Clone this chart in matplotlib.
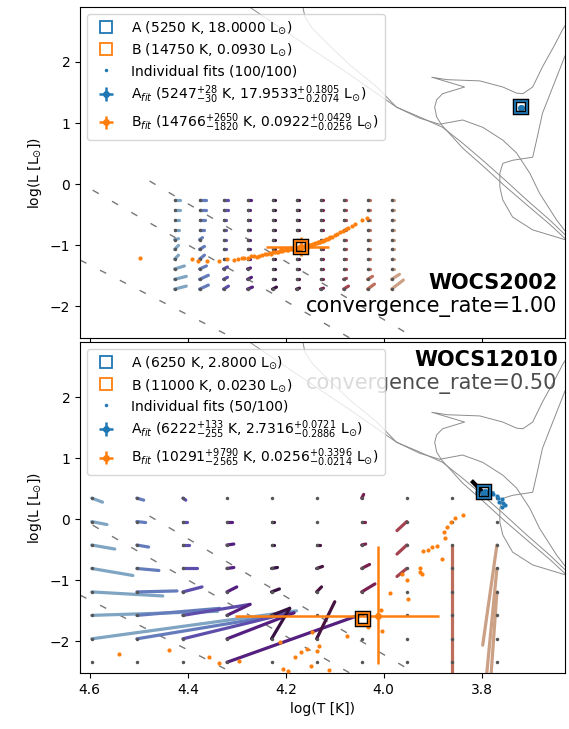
import numpy as np
import matplotlib
matplotlib.use("Agg")
import matplotlib.pyplot as plt

# ---------------- isochrone tracks (log T, log L), same in both panels ----------------
iso1_logT = [4.294, 4.274, 4.171, 4.069, 3.974, 3.927, 3.880, 3.839, 3.798, 3.753, 3.708, 3.661, 3.622, 3.600]
iso1_logL = [3.02, 2.90, 2.34, 1.79, 1.26, 1.10, 0.93, 0.67, 0.39, 0.07, -0.26, -0.59, -0.89, -1.20]
iso2_logT = [4.165, 4.165, 4.161, 4.147, 4.116, 4.069, 4.014, 3.974, 3.927, 3.886, 3.859, 3.839,
             3.798, 3.757, 3.729, 3.702, 3.682, 3.647, 3.622, 3.600]
iso2_logL = [3.02, 2.90, 2.74, 2.56, 2.31, 1.95, 1.59, 1.26, 1.08, 0.98, 1.02, 1.05,
             0.93, 0.72, 0.51, 0.18, -0.15, -0.59, -0.85, -1.15]
iso3_logT = [3.600, 3.622, 3.661, 3.708, 3.753, 3.798, 3.839, 3.865, 3.882, 3.892, 3.896, 3.892,
             3.880, 3.835, 3.902, 3.871, 3.804, 3.757, 3.729, 3.716, 3.696, 3.676, 3.651, 3.635, 3.620]
iso3_logL = [-1.25, -0.95, -0.66, -0.34, -0.03, 0.30, 0.59, 0.82, 0.97, 1.10, 1.26, 1.38,
             1.48, 1.59, 1.75, 1.71, 1.69, 1.59, 1.49, 1.48, 1.59, 1.92, 2.28, 2.53, 2.72]
iso4_logT = [3.600, 3.622, 3.696, 3.737, 3.757, 3.763, 3.763, 3.757, 3.737, 3.696, 3.688, 3.676,
             3.655, 3.631, 3.616]
iso4_logL = [-0.99, -0.93, -0.75, -0.54, -0.26, -0.05, 0.18, 0.34, 0.39, 0.44, 0.72, 1.16,
             1.59, 2.08, 2.33]

# ---------------- dashed cooling tracks ----------------
wd1_logT = [4.594, 3.95]
wd1_logL = [-0.10, -3.07]
wd2_logT = [4.478, 3.85]
wd2_logL = [0.05, -2.93]
wd3_logT = [4.66, 4.05]
wd3_logL = [-1.08, -3.57]

# ---------------- panel 1 : WOCS2002 ----------------
p1_name = "WOCS2002"
p1_rate = 1.00
p1_nconv = 100
p1_A_true = (5250, 18.0000)
p1_B_true = (14750, 0.0930)
p1_A_fit = (5247, 28, 30, 17.9533, 0.1805, 0.2074)
p1_B_fit = (14766, 2650, 1820, 0.0922, 0.0429, 0.0256)

p1_grid_logT = [4.427, 4.376, 4.327, 4.278, 4.227, 4.178, 4.129, 4.082, 4.033, 3.984]
p1_grid_logL = [-0.26, -0.42, -0.58, -0.75, -0.91, -1.07, -1.23, -1.39, -1.56, -1.72]
p1_step_dT = [
    [-0.012, -0.012, -0.010, -0.010, -0.008, -0.008, -0.008, -0.020, -0.024, -0.024],
    [-0.014, -0.014, -0.012, -0.010, -0.006, -0.010, -0.010, -0.014, -0.018, -0.018],
    [-0.010, -0.010, -0.006, -0.006, -0.004, -0.004, -0.004, -0.008, -0.008, -0.010],
    [-0.008, -0.006, -0.004, -0.004, -0.004, -0.004, -0.004, -0.006, -0.008, -0.010],
    [-0.006, -0.006, -0.006, -0.006, -0.006, -0.006, -0.006, -0.006, -0.006, -0.008],
    [-0.004, -0.004, -0.004, -0.004, -0.004, -0.004, -0.004, -0.004, -0.004, -0.006],
    [-0.004, -0.004, -0.004, -0.004, -0.004, -0.004, -0.004, -0.004, -0.004, -0.006],
    [-0.004, -0.004, -0.004, -0.004, -0.004, -0.004, -0.004, -0.004, -0.006, -0.010],
    [-0.004, -0.004, -0.004, -0.004, -0.004, -0.004, -0.004, -0.004, -0.010, -0.014],
    [-0.004, -0.004, -0.004, -0.004, -0.004, -0.004, -0.004, -0.004, -0.016, -0.024],
]
p1_step_dL = [
    [0.0, 0.0, 0.0, 0.0, 0.016, 0.066, 0.066, 0.049, 0.049, 0.049],
    [0.0, 0.0, 0.0, 0.0, 0.033, 0.049, 0.066, 0.049, 0.066, 0.066],
    [0.0, 0.0, 0.0, 0.0, 0.0, 0.0, 0.0, 0.033, 0.033, 0.049],
    [0.0, 0.0, 0.0, 0.0, 0.0, 0.0, 0.0, 0.016, 0.033, 0.033],
    [0.0, 0.0, 0.0, 0.0, 0.0, 0.0, 0.0, 0.0, 0.0, 0.033],
    [0.0, 0.0, 0.0, 0.0, 0.0, 0.0, 0.0, 0.0, 0.0, 0.016],
    [0.0, 0.0, 0.0, 0.0, 0.0, 0.0, 0.0, 0.0, 0.0, 0.016],
    [0.0, 0.0, 0.0, 0.0, 0.0, 0.0, 0.0, 0.0, 0.016, 0.049],
    [0.0, 0.0, 0.0, 0.0, 0.0, 0.0, 0.0, 0.0, 0.049, 0.082],
    [0.0, 0.0, 0.0, 0.0, 0.0, 0.0, 0.0, 0.0, 0.082, 0.148],
]
p1_fitsB_logT = [4.498, 4.392, 4.380, 4.361, 4.337, 4.320, 4.290, 4.278, 4.259, 4.249, 4.243,
                 4.233, 4.222, 4.212, 4.204, 4.198, 4.192, 4.186, 4.178, 4.171, 4.165, 4.157,
                 4.151, 4.145, 4.137, 4.127, 4.118, 4.110, 4.100, 4.090, 4.078, 4.065, 4.045,
                 4.035, 4.230, 4.215, 4.200, 4.188, 4.175, 4.160, 4.140, 4.130, 4.305, 4.270,
                 4.182, 4.168, 4.155, 4.120, 4.265, 4.255, 4.238, 4.227, 4.218, 4.208, 4.195,
                 4.183, 4.173, 4.162, 4.150, 4.142, 4.133, 4.123, 4.114, 4.105, 4.095, 4.084,
                 4.072, 4.059, 4.210, 4.190, 4.176, 4.158, 4.148, 4.135, 4.112, 4.298, 4.285]
p1_fitsB_logL = [-1.213, -1.230, -1.262, -1.262, -1.262, -1.230, -1.213, -1.213, -1.197, -1.164,
                 -1.148, -1.131, -1.115, -1.098, -1.082, -1.082, -1.066, -1.066, -1.049, -1.033,
                 -1.033, -1.016, -1.000, -0.984, -0.967, -0.934, -0.902, -0.869, -0.836, -0.787,
                 -0.738, -0.689, -0.590, -0.557, -1.150, -1.110, -1.070, -1.060, -1.030, -1.010,
                 -0.960, -0.950, -1.240, -1.180, -1.040, -1.050, -1.030, -0.920, -1.175, -1.180,
                 -1.145, -1.120, -1.105, -1.090, -1.075, -1.058, -1.045, -1.020, -0.995, -0.975,
                 -0.955, -0.925, -0.895, -0.860, -0.815, -0.765, -0.715, -0.660, -1.070, -1.050,
                 -1.040, -1.005, -0.990, -0.945, -0.880, -1.225, -1.205]
p1_fitsA_logT = [3.7200, 3.7210, 3.7190, 3.7205, 3.7195, 3.7215, 3.7185]
p1_fitsA_logL = [1.255, 1.260, 1.250, 1.245, 1.262, 1.252, 1.258]
p1_extra_logT = []
p1_extra_logL = []

# ---------------- panel 2 : WOCS12010 ----------------
p2_name = "WOCS12010"
p2_rate = 0.50
p2_nconv = 50
p2_A_true = (6250, 2.8000)
p2_B_true = (11000, 0.0230)
p2_A_fit = (6222, 133, 255, 2.7316, 0.0721, 0.2886)
p2_B_fit = (10291, 9790, 2565, 0.0256, 0.3396, 0.0214)

p2_grid_logT = [4.596, 4.504, 4.410, 4.320, 4.229, 4.137, 4.045, 3.953, 3.861, 3.769]
p2_grid_logL = [0.344, -0.040, -0.424, -0.808, -1.192, -1.576, -1.960, -2.344]
p2_step_dT = [
    [-0.022, -0.031, -0.047, -0.084, -0.145, -0.257, -0.418, 0.0],
    [-0.014, -0.018, -0.024, -0.045, -0.082, -0.169, -0.320, 0.0],
    [-0.006, -0.008, -0.012, -0.029, -0.039, -0.137, -0.218, 0.0],
    [0.0, -0.010, -0.014, -0.014, -0.020, -0.047, -0.137, -0.269],
    [0.0, -0.006, -0.006, -0.012, -0.016, -0.037, -0.037, 0.0],
    [0.0, 0.0, -0.006, -0.012, -0.010, 0.0, -0.037, 0.0],
    [-0.004, -0.006, -0.008, -0.016, -0.027, 0.0, 0.0, 0.0],
    [0.0, 0.020, 0.020, 0.020, 0.0, 0.0, 0.0, 0.0],
    [0.0, 0.0, 0.0, 0.0, 0.0, 0.0, 0.0, 0.0],
    [0.0, 0.0, 0.029, 0.022, 0.014, 0.0, 0.0, 0.0],
]
p2_step_dL = [
    [-0.066, -0.049, -0.066, -0.115, -0.066, 0.066, 0.459, 0.0],
    [-0.033, -0.016, -0.033, -0.033, 0.016, 0.115, 0.426, 0.0],
    [-0.033, 0.0, 0.0, 0.0, 0.082, 0.180, 0.426, 0.0],
    [0.0, 0.0, 0.016, 0.016, 0.082, 0.180, 0.426, 0.770],
    [0.0, 0.0, 0.0, 0.016, 0.049, 0.115, 0.500, 0.0],
    [0.0, 0.0, 0.0, 0.033, 0.082, 0.0, 0.607, 0.0],
    [0.060, 0.0, 0.016, 0.066, 0.131, 0.0, 0.0, 0.0],
    [0.0, -0.148, -0.148, -0.131, 0.0, 0.0, 0.0, 0.0],
    [0.0, 0.0, -2.5, 0.0, 0.0, 0.0, 0.0, 0.0],
    [0.0, 0.0, -1.64, -1.82, -1.59, 0.0, 0.0, 0.0],
]
p2_fitsB_logT = [4.541, 4.439, 4.357, 4.337, 4.296, 4.212, 4.206, 4.196, 4.182, 4.169, 4.157,
                 4.149, 4.147, 4.137, 4.133, 4.112, 4.074, 4.033, 4.006, 4.004, 3.988, 3.963,
                 3.953, 3.951, 3.927, 3.925, 3.922, 3.920, 3.910, 3.902, 3.892, 3.882, 3.874,
                 3.876, 3.871, 3.863, 3.855, 3.839, 4.014]
p2_fitsB_logL = [-2.213, -2.148, -2.262, -2.361, -2.328, -2.016, -2.459, -2.492, -2.262, -2.180,
                 -2.131, -2.410, -1.852, -2.164, -2.082, -2.475, -1.918, -1.770, -1.492, -1.836,
                 -1.213, -0.902, -1.000, -1.311, -0.803, -0.869, -0.902, -0.525, -0.508, -0.459,
                 -0.443, -0.656, -0.311, -0.213, -0.131, -0.049, 0.016, 0.066, -1.590]
p2_fitsA_logT = [3.810, 3.800, 3.790, 3.784, 3.778, 3.769, 3.767, 3.759, 3.765, 3.757, 3.759,
                 3.753, 3.795, 3.788]
p2_fitsA_logL = [0.443, 0.410, 0.426, 0.443, 0.410, 0.377, 0.344, 0.328, 0.279, 0.262, 0.197,
                 0.230, 0.440, 0.450]
p2_extra_logT = [3.818, 3.800]
p2_extra_logL = [0.607, 0.460]

panels = [
    dict(name=p1_name, rate=p1_rate, nconv=p1_nconv, A=p1_A_true, B=p1_B_true,
         Af=p1_A_fit, Bf=p1_B_fit, gT=p1_grid_logT, gL=p1_grid_logL,
         dT=p1_step_dT, dL=p1_step_dL, fBT=p1_fitsB_logT, fBL=p1_fitsB_logL,
         fAT=p1_fitsA_logT, fAL=p1_fitsA_logL, exT=p1_extra_logT, exL=p1_extra_logL,
         txt_pos=(0.985, 0.148, 0.078), txt_col="black"),
    dict(name=p2_name, rate=p2_rate, nconv=p2_nconv, A=p2_A_true, B=p2_B_true,
         Af=p2_A_fit, Bf=p2_B_fit, gT=p2_grid_logT, gL=p2_grid_logL,
         dT=p2_step_dT, dL=p2_step_dL, fBT=p2_fitsB_logT, fBL=p2_fitsB_logL,
         fAT=p2_fitsA_logT, fAL=p2_fitsA_logL, exT=p2_extra_logT, exL=p2_extra_logL,
         txt_pos=(0.985, 0.927, 0.858), txt_col="#4d4d4d"),
]

# ---------------- figure ----------------
fig = plt.figure(figsize=(5.69, 7.29), dpi=100)
ax1 = fig.add_axes([0.1406, 0.5364, 0.8524, 0.4540])
ax2 = fig.add_axes([0.1406, 0.0768, 0.8524, 0.4540], sharex=ax1)
axes = [ax1, ax2]
cmap = plt.get_cmap("twilight")


def fmt_lab(letter, T, L):
    return f"{letter} ({T:.0f} K, {L:.4f} L$_{{\\odot}}$)"


def fmt_fit(letter, f):
    T, Tp, Tm, L, Lp, Lm = f
    return (f"{letter}$_{{fit}}$ (${T:.0f}^{{+{Tp:.0f}}}_{{-{Tm:.0f}}}$ K, "
            f"${L:.4f}^{{+{Lp:.4f}}}_{{-{Lm:.4f}}}$ L$_{{\\odot}}$)")


for ax, p in zip(axes, panels):
    for iT, iL in [(iso1_logT, iso1_logL), (iso2_logT, iso2_logL),
                   (iso3_logT, iso3_logL), (iso4_logT, iso4_logL)]:
        ax.plot(iT, iL, color="#8c8c8c", lw=0.7, zorder=1)
    for wT, wL in [(wd1_logT, wd1_logL), (wd2_logT, wd2_logL), (wd3_logT, wd3_logL)]:
        ax.plot(wT, wL, color="#777777", lw=1.0, ls=(0, (5, 11)), zorder=1)

    ncol = len(p["gT"])
    cols = cmap(np.linspace(0.16, 0.87, ncol))
    for i, t0 in enumerate(p["gT"]):
        for j, l0 in enumerate(p["gL"]):
            dt = p["dT"][i][j]
            dl = p["dL"][i][j]
            if dt != 0 or dl != 0:
                ax.plot([t0, t0 + dt], [l0, l0 + dl], color=cols[i], lw=2.3,
                        solid_capstyle="round", zorder=2)
    gx, gy = np.meshgrid(p["gT"], p["gL"])
    ax.plot(gx.ravel(), gy.ravel(), "o", color="#555555", ms=2.5, mew=0, zorder=3)

    if p["exT"]:
        ax.plot(p["exT"], p["exL"], color="black", lw=3, zorder=4)

    ax.plot(p["fBT"], p["fBL"], "o", color="C1", ms=3.0, mew=0, zorder=4)
    ax.plot(p["fAT"], p["fAL"], "o", color="C0", ms=3.0, mew=0, zorder=4)

    hA_true, = ax.plot([np.log10(p["A"][0])], [np.log10(p["A"][1])], "s", mfc="none",
                       mec="C0", ms=8, mew=1.3, zorder=7, label=fmt_lab("A", *p["A"]))
    hB_true, = ax.plot([np.log10(p["B"][0])], [np.log10(p["B"][1])], "s", mfc="none",
                       mec="C1", ms=8, mew=1.3, zorder=7, label=fmt_lab("B", *p["B"]))
    ax.plot([np.log10(p["A"][0]), np.log10(p["B"][0])],
            [np.log10(p["A"][1]), np.log10(p["B"][1])], "s", mfc="none",
            mec="black", ms=8, mew=3.2, ls="none", zorder=6)
    hInd, = ax.plot([], [], "o", color="C0", ms=2.5, mew=0, ls="none",
                    label=f"Individual fits ({p['nconv']}/100)")

    handles = [hA_true, hB_true, hInd]
    for letter, f, c in [("A", p["Af"], "C0"), ("B", p["Bf"], "C1")]:
        T, Tp, Tm, L, Lp, Lm = f
        lt = np.log10(T)
        ll = np.log10(L)
        xerr = [[lt - np.log10(T - Tm)], [np.log10(T + Tp) - lt]]
        yerr = [[ll - np.log10(L - Lm)], [np.log10(L + Lp) - ll]]
        h = ax.errorbar([lt], [ll], xerr=xerr, yerr=yerr, fmt="o", color=c, ms=4,
                        elinewidth=1.8, capsize=0, zorder=5, label=fmt_fit(letter, f))
        handles.append(h)

    xt, y1, y2 = p["txt_pos"]
    ax.text(xt, y1, p["name"], transform=ax.transAxes, ha="right", va="baseline",
            fontsize=15, fontweight="bold", color="black", zorder=8)
    ax.text(xt, y2, f"convergence_rate={p['rate']:.2f}", transform=ax.transAxes,
            ha="right", va="baseline", fontsize=15, color=p["txt_col"], zorder=8)

    leg = ax.legend(handles=handles, loc="upper left", fontsize=10, framealpha=0.8,
                    labelspacing=0.4)
    leg.set_zorder(10)

    ax.set_xlim(4.62, 3.63)
    ax.set_ylim(-2.52, 2.9)
    ax.set_ylabel("log(L [L$_{\\odot}$])", fontsize=10)
    ax.set_yticks([-2, -1, 0, 1, 2])

ax1.tick_params(labelbottom=False)
ax2.set_xticks([4.6, 4.4, 4.2, 4.0, 3.8])
ax2.set_xlabel("log(T [K])", fontsize=10)

fig.savefig("out.png", dpi=100)
